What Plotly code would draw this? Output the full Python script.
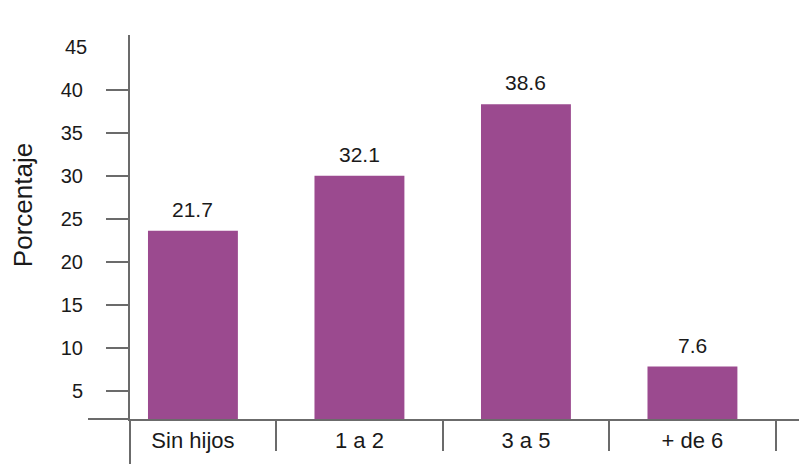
import plotly.graph_objects as go

categories = ["Sin hijos", "1 a 2", "3 a 5", "+ de 6"]
bar_heights = [23.6, 30.0, 38.3, 7.8]
bar_labels = ["21.7", "32.1", "38.6", "7.6"]
y_tickvals = [5, 10, 15, 20, 25, 30, 35, 40]
y_top_label = 45
y_title = "Porcentaje"

BAR = "#9B4A8F"
AX = "#6b6b6b"
TXT = "#1a1a1a"
FONT = "Liberation Sans, Arial, sans-serif"

fig = go.Figure()
fig.add_trace(go.Bar(
    x=categories, y=bar_heights,
    marker=dict(color=BAR, line=dict(width=0)),
    hoverinfo="skip",
))

for c, h, lab in zip(categories, bar_heights, bar_labels):
    fig.add_annotation(
        x=c, y=h, xref="x", yref="y", text=lab, showarrow=False,
        yanchor="bottom", yshift=8,
        font=dict(family=FONT, size=21, color=TXT),
    )

# page body has an 8px default margin, so the figure is sized to fit the window
W, H = 799, 456
L, R, T, B = 122, 0, 27, 45
plot_w = W - L - R
plot_h = H - T - B

fig.update_layout(
    width=W, height=H,
    margin=dict(l=L, r=R, t=T, b=B, pad=0, autoexpand=False),
    paper_bgcolor="white", plot_bgcolor="white",
    bargap=0.46, showlegend=False,
    font=dict(family=FONT, color=TXT),
    xaxis=dict(
        type="category", range=[-0.378, 3.688], automargin=False,
        showline=True, linecolor=AX, linewidth=2,
        ticks="outside", tickson="boundaries", ticklen=30, tickwidth=2, tickcolor=AX,
        ticklabelstandoff=1,
        tickfont=dict(family=FONT, size=22, color=TXT),
        showgrid=False, zeroline=False, fixedrange=True,
    ),
    yaxis=dict(
        range=[1.7, 46.36], automargin=False,
        tickvals=y_tickvals,
        showline=True, linecolor=AX, linewidth=2,
        ticks="outside", ticklen=22, tickwidth=2, tickcolor=AX,
        ticklabelstandoff=19,
        tickfont=dict(family=FONT, size=20, color=TXT),
        showgrid=False, zeroline=False, fixedrange=True,
    ),
)

# y-axis title
fig.add_annotation(
    x=-0.158, xref="paper", y=0.557, yref="paper",
    text=y_title, textangle=-90, showarrow=False,
    xanchor="center", yanchor="middle",
    font=dict(family=FONT, size=26, color=TXT),
)

# top tick label without tick mark
fig.add_annotation(
    x=0, xref="paper", y=y_top_label, yref="y",
    text=str(y_top_label), showarrow=False, xanchor="right", yanchor="middle",
    xshift=-(22 + 19), font=dict(family=FONT, size=20, color=TXT),
)

# axis line extensions beyond the plot corner
fig.add_shape(type="line", xref="paper", yref="paper",
              x0=0, x1=0, y0=0, y1=-B / plot_h,
              line=dict(color=AX, width=2))
fig.add_shape(type="line", xref="paper", yref="paper",
              x0=-(L - 80) / plot_w, x1=0, y0=0, y1=0,
              line=dict(color=AX, width=2))

fig.write_html("out.html")
